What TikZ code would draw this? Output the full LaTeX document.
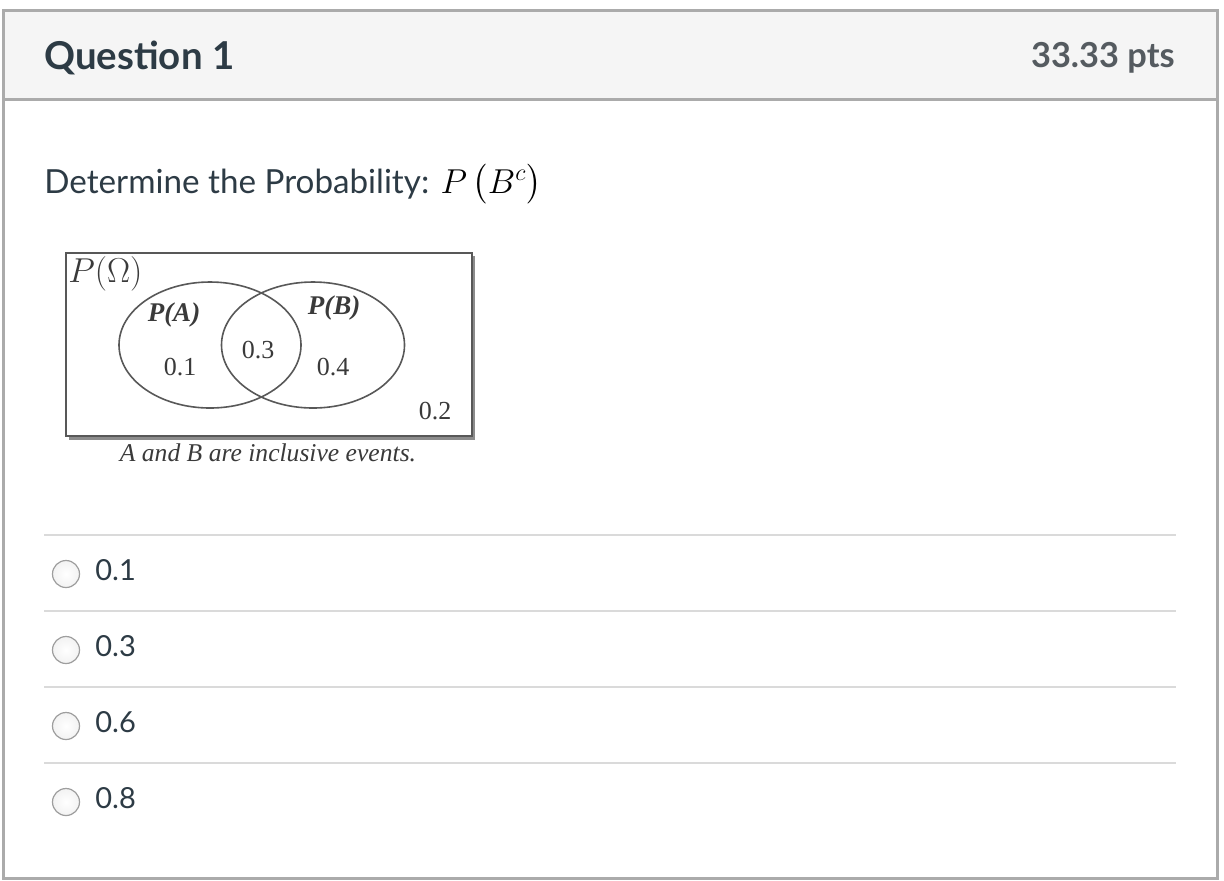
\documentclass[tikz,border=0pt]{standalone}
\usepackage{amsmath, amssymb}
\usepackage{fontspec}
\setmainfont{Lato}
\newfontfamily\vennfont{Liberation Serif}
\usetikzlibrary{calc,positioning,shapes}

\definecolor{ink}{HTML}{2D3B45}
\definecolor{ptsgray}{HTML}{555B60}
\definecolor{headbg}{HTML}{F5F5F5}
\definecolor{framegray}{HTML}{ABABAB}
\definecolor{rulegray}{HTML}{DADADA}
\definecolor{venngray}{HTML}{3A3A3A}

\tikzset{
  frame/.style={draw=framegray, line width=1.5pt},
  sep/.style={draw=rulegray, line width=1pt},
  radio/.style={circle, draw=black!38, line width=0.6pt, inner color=white, outer color=black!5, minimum size=13.5pt, inner sep=0pt},
  optlabel/.style={anchor=base west, inner sep=0pt, text=ink, font=\fontsize{14.5}{17}\selectfont},
  venn/.style={draw=venngray!85, line width=0.8pt},
  vtext/.style={inner sep=0pt, text=venngray, font=\vennfont\fontsize{13}{15}\selectfont},
  vlabel/.style={vtext, font=\vennfont\bfseries\itshape\fontsize{13.5}{15}\selectfont}
}

\begin{document}
\begin{tikzpicture}[x=0.5pt,y=-0.5pt]
\useasboundingbox (0,0) rectangle (1224,880);
\fill[white] (0,0) rectangle (1224,880);

% header band
\fill[headbg] (3,10) rectangle (1217,99);
\draw[frame] (3,10) rectangle (1217,878);
\draw[frame] (3,99) -- (1217,99);
\node[anchor=base west, inner sep=0pt, text=ink, font=\bfseries\fontsize{19.2}{23}\selectfont] (title) at (44,69) {Question 1};
\node[anchor=base east, inner sep=0pt, text=ptsgray, font=\bfseries\fontsize{17.2}{21}\selectfont] (pts) at (1175,67) {33.33 pts};

% question text
\node[anchor=base west, inner sep=0pt, text=ink, font=\fontsize{16.6}{20}\selectfont] (ask) at (44,193) {Determine the Probability: \textcolor{black}{$P\,\big(B^{c}\big)$}};

% venn picture
\fill[black!45] (69,256) rectangle (475,440);
\draw[venn, fill=white, line width=1.2pt] (66,253) rectangle (472,436);
\node[anchor=north west, inner sep=0pt, text=venngray, font=\fontsize{19}{22}\selectfont] (omega) at (68,256) {$P(\Omega)$};
\draw[venn] (210,345) ellipse (91 and 63);
\draw[venn] (313,345) ellipse (91.5 and 63);
\node[vlabel] (pa) at (174,315) {P(A)};
\node[vlabel] (pb) at (334,308) {P(B)};
\node[vtext] (ab) at (258,350) {0.3};
\node[vtext] (a) at (180,367) {0.1};
\node[vtext] (b) at (333,367) {0.4};
\node[vtext] (rest) at (435,411) {0.2};
\node[vtext, font=\vennfont\itshape\fontsize{12.8}{15}\selectfont] (cap) at (268,453) {A and B are inclusive events.};

% answer options
\foreach \y/\v [count=\i] in {535/0.1, 611/0.3, 687/0.6, 763/0.8} {
  \draw[sep] (44,\y) -- (1176,\y);
  \node[radio] (r\i) at (66,\y+39) {};
  \node[optlabel] (o\i) at (95,\y+45) {\v};
}
\end{tikzpicture}
\end{document}
